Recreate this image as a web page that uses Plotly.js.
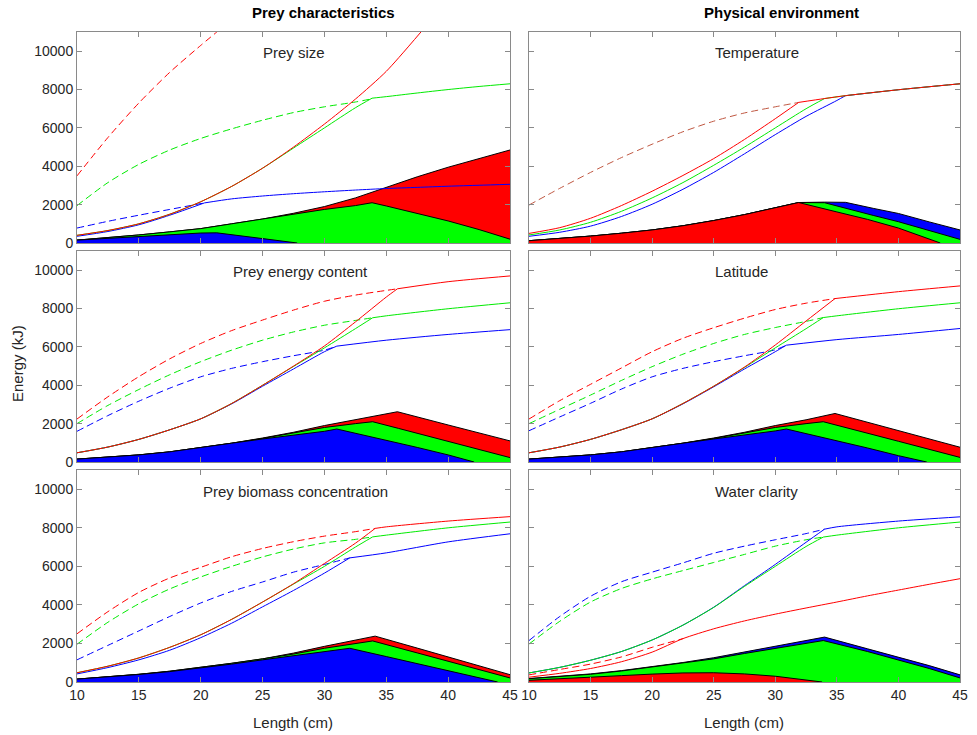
<!DOCTYPE html>
<html>
<head>
<meta charset="utf-8">
<script src="https://cdn.plot.ly/plotly-3.0.1.min.js"></script>
<style>html,body{margin:0;padding:0;background:#fff;}#chart{width:977px;height:735px;}</style>
</head>
<body>
<div id="chart"></div>
<script>
// ---------- axis ticks ----------
const xTicks = [10, 15, 20, 25, 30, 35, 40, 45];
const yTicks = [0, 2000, 4000, 6000, 8000, 10000];
const colTitles = ["Prey characteristics", "Physical environment"];
const panelTitles = ["Prey size", "Temperature", "Prey energy content", "Latitude", "Prey biomass concentration", "Water clarity"];

// ---------- Panel A: Prey size ----------
const sizeRedDashX = [10,12.5,15,17.5,20,21.3];
const sizeRedDashY = [3500,5500,7300,8900,10300,11000];
const sizeRedX = [10,12.5,15,17.5,20,22.5,25,27.5,30,32.5,35,37.8];
const sizeRedY = [400,650,1000,1500,2150,2950,3900,5000,6200,7500,8950,11000];
const sizeGreenDashX = [10,12.5,15,17.5,20,22.5,25,27.5,30,32.5,33.85];
const sizeGreenDashY = [1950,3150,4100,4850,5450,5950,6400,6800,7100,7350,7520];
const sizeGreenX = [10,12.5,15,17.5,20,22.5,25,27.5,30,32.5,33.85,35,37.5,40,42.5,45];
const sizeGreenY = [400,650,1000,1500,2150,2950,3900,4950,6000,7050,7550,7630,7820,8000,8160,8300];
const sizeBlueDashX = [10,12.5,15,17.5,20.3];
const sizeBlueDashY = [780,1130,1450,1750,2090];
const sizeBlueX = [10,12.5,15,17.5,20.3,22.5,25,27.5,30,32.5,35,37.5,40,42.5,45];
const sizeBlueY = [350,600,950,1450,2090,2300,2450,2570,2670,2760,2840,2900,2960,3010,3060];
const sizeRedFillX = [10,12.5,15,17.5,20,22.5,25,27.5,30,32.5,35,37.5,40,42.5,45];
const sizeRedFillY = [150,270,420,580,750,1000,1250,1550,1900,2350,2900,3450,3950,4400,4850];
const sizeGreenFillX = [10,12.5,15,17.5,20,22.5,25,27.5,30,32.5,33.85,35,37.5,40,42.5,45];
const sizeGreenFillY = [150,270,420,580,750,1000,1250,1500,1750,1950,2100,1930,1550,1150,700,200];
const sizeBlueFillX = [10,12.5,15,17.5,20,21.3,22.5,25,27.8];
const sizeBlueFillY = [150,250,350,450,520,530,440,230,0];

// ---------- Panel B: Temperature ----------
const tempDashX = [10,12.5,15,17.5,20,22.5,25,27.5,30,31.9];
const tempDashY = [1980,2850,3680,4450,5150,5800,6350,6780,7100,7330];
const tempRedX = [10,12.5,15,17.5,20,22.5,25,27.5,30,31.9,34,35.7,40,45];
const tempRedY = [500,800,1290,1950,2700,3520,4400,5400,6480,7330,7530,7680,7990,8300];
const tempGreenX = [10,12.5,15,17.5,20,22.5,25,27.5,30,32.5,34,35.7,40,45];
const tempGreenY = [420,680,1080,1650,2350,3150,4050,5000,6000,7000,7530,7680,7990,8300];
const tempBlueX = [10,12.5,15,17.5,20,22.5,25,27.5,30,32.5,35,35.7,40,45];
const tempBlueY = [350,560,880,1380,2020,2800,3680,4650,5650,6600,7430,7680,7990,8300];
const tempBlueFillX = [10,12.5,15,17.5,20,22.5,25,27.5,30,31.9,34,35.7,38,40,42.5,45];
const tempBlueFillY = [120,230,360,510,680,900,1170,1480,1830,2110,2130,2120,1800,1540,1100,680];
const tempGreenFillX = [10,12.5,15,17.5,20,22.5,25,27.5,30,31.9,34,36,38,40,42.5,45];
const tempGreenFillY = [120,230,360,510,680,900,1170,1480,1830,2110,2100,1750,1430,1110,650,190];
const tempRedFillX = [10,12.5,15,17.5,20,22.5,25,27.5,30,31.9,35,37.5,40,42.5,43.4];
const tempRedFillY = [120,230,360,510,680,900,1170,1480,1830,2110,1620,1230,780,230,0];

// ---------- Panel C: Prey energy content ----------
const energyRedDashX = [10,12.5,15,17.5,20,22.5,25,27.5,30,32.5,35.9];
const energyRedDashY = [2240,3400,4450,5380,6180,6850,7400,7920,8380,8700,9030];
const energyRedX = [10,12.5,15,17.5,20,22.5,25,27.5,30,32.5,35,35.9,40,45];
const energyRedY = [480,780,1180,1680,2250,3050,4000,5000,6050,7300,8600,9030,9400,9700];
const energyGreenDashX = [10,12.5,15,17.5,20,22.5,25,27.5,30,32.5,33.9];
const energyGreenDashY = [2000,2950,3780,4550,5230,5830,6350,6780,7130,7380,7520];
const energyGreenX = [10,12.5,15,17.5,20,22.5,25,27.5,30,32.5,33.9,35,40,45];
const energyGreenY = [480,780,1180,1680,2250,3050,4000,4980,5950,6950,7520,7620,7990,8300];
const energyBlueDashX = [10,12.5,15,17.5,20,22.5,25,27.5,30,31];
const energyBlueDashY = [1600,2420,3170,3850,4440,4880,5230,5540,5830,6040];
const energyBlueX = [10,12.5,15,17.5,20,22.5,25,27.5,30,31,35,40,45];
const energyBlueY = [480,780,1180,1680,2250,3030,3950,4850,5750,6040,6350,6650,6900];
const energyRedFillX = [10,12.5,15,17.5,20,22.5,25,27.5,30,32.5,35.9,40,45];
const energyRedFillY = [150,250,370,530,740,980,1250,1550,1900,2200,2620,1930,1100];
const energyGreenFillX = [10,12.5,15,17.5,20,22.5,25,27.5,30,32.5,33.9,36,40,45];
const energyGreenFillY = [150,250,370,530,740,980,1230,1500,1800,2000,2100,1750,1080,230];
const energyBlueFillX = [10,12.5,15,17.5,20,22.5,25,27.5,30,31,35,37.5,40,42.1];
const energyBlueFillY = [150,250,370,530,740,980,1200,1400,1600,1720,1140,760,370,0];

// ---------- Panel D: Latitude ----------
const latRedDashX = [10,12.5,15,17.5,20,22.5,25,27.5,30,32.5,34.85];
const latRedDashY = [2240,3200,4050,4900,5750,6450,7000,7500,7950,8280,8520];
const latRedX = [10,12.5,15,17.5,20,22.5,25,27.5,30,32.5,34.85,40,45];
const latRedY = [480,780,1180,1680,2250,3050,3950,4950,6100,7350,8520,8880,9180];
const latGreenDashX = [10,12.5,15,17.5,20,22.5,25,27.5,30,32.5,33.9];
const latGreenDashY = [2000,2750,3490,4250,4970,5620,6180,6650,7010,7330,7530];
const latGreenX = [10,12.5,15,17.5,20,22.5,25,27.5,30,32.5,33.9,35,40,45];
const latGreenY = [480,780,1180,1680,2250,3050,3950,4930,5950,6950,7530,7620,7990,8300];
const latBlueDashX = [10,12.5,15,17.5,20,22.5,25,27.5,30,30.9];
const latBlueDashY = [1630,2350,3060,3800,4440,4880,5230,5540,5850,6090];
const latBlueX = [10,12.5,15,17.5,20,22.5,25,27.5,30,30.9,35,40,45];
const latBlueY = [480,780,1180,1680,2250,3030,3920,4850,5750,6090,6380,6650,6960];
const latRedFillX = [10,12.5,15,17.5,20,22.5,25,27.5,30,32.5,34.85,40,45];
const latRedFillY = [150,250,370,530,740,980,1250,1550,1900,2200,2530,1640,770];
const latGreenFillX = [10,12.5,15,17.5,20,22.5,25,27.5,30,32.5,33.9,40,45];
const latGreenFillY = [150,250,370,530,740,980,1230,1500,1800,2000,2100,1080,240];
const latBlueFillX = [10,12.5,15,17.5,20,22.5,25,27.5,30,30.9,35,37.5,40,42.3];
const latBlueFillY = [150,250,370,530,740,980,1200,1400,1620,1720,1120,730,330,0];

// ---------- Panel E: Prey biomass concentration ----------
const bioRedDashX = [10,12.5,15,17.5,20,22.5,25,27.5,30,32.5,34.1];
const bioRedDashY = [2500,3650,4650,5400,5950,6500,6930,7280,7570,7800,7970];
const bioRedX = [10,12.5,15,17.5,20,22.5,25,27.5,30,32.5,34.1,35,40,45];
const bioRedY = [480,820,1250,1800,2450,3250,4150,5100,6150,7200,7970,8050,8350,8580];
const bioGreenDashX = [10,12.5,15,17.5,20,22.5,25,27.5,30,32.5,33.9];
const bioGreenDashY = [1960,3100,4060,4830,5450,6000,6490,6900,7220,7400,7530];
const bioGreenX = [10,12.5,15,17.5,20,22.5,25,27.5,30,32.5,33.9,35,40,45];
const bioGreenY = [480,820,1250,1800,2450,3250,4150,5080,6000,7000,7530,7620,8000,8300];
const bioBlueDashX = [10,12.5,15,17.5,20,22.5,25,27.5,30,32.05];
const bioBlueDashY = [1150,1900,2650,3400,4100,4700,5190,5700,6100,6440];
const bioBlueX = [10,12.5,15,17.5,20,22.5,25,27.5,30,32.05,35,40,45];
const bioBlueY = [420,750,1150,1650,2300,3050,3900,4750,5650,6440,6700,7270,7690];
const bioRedFillX = [10,12.5,15,17.5,20,22.5,25,27.5,30,32.5,34.1,37.5,40,42.5,45];
const bioRedFillY = [150,270,400,560,760,970,1200,1500,1850,2150,2380,1760,1300,840,380];
const bioGreenFillX = [10,12.5,15,17.5,20,22.5,25,27.5,30,32.5,33.9,37.5,40,42.5,45];
const bioGreenFillY = [150,270,400,560,760,970,1200,1450,1750,1980,2130,1510,1075,640,210];
const bioBlueFillX = [10,12.5,15,17.5,20,22.5,25,27.5,30,32.05,35,37.5,40,42.5,44];
const bioBlueFillY = [150,260,390,540,730,930,1150,1350,1580,1750,1320,950,590,220,0];

// ---------- Panel F: Water clarity ----------
const clarBlueDashX = [10,12.5,15,17.5,20,22.5,25,27.5,30,32.5,34];
const clarBlueDashY = [2150,3400,4450,5200,5700,6180,6680,7050,7380,7700,7930];
const clarBlueX = [10,12.5,15,17.5,20,22.5,25,27.5,30,32.5,34,35,40,45];
const clarBlueY = [470,760,1130,1580,2180,2950,3880,5000,6100,7250,7930,8050,8350,8570];
const clarGreenDashX = [10,12.5,15,17.5,20,22.5,25,27.5,30,32.5,33.9];
const clarGreenDashY = [1970,3150,4150,4850,5350,5780,6200,6620,7050,7380,7520];
const clarGreenX = [10,12.5,15,17.5,20,22.5,25,27.5,30,32.5,33.9,35,40,45];
const clarGreenY = [470,760,1130,1580,2180,2950,3870,4960,6000,7030,7520,7620,8000,8300];
const clarRedDashX = [10,12.5,15,17.5,20,22.5];
const clarRedDashY = [370,650,930,1300,1800,2250];
const clarRedX = [10,12.5,15,17.5,20,22.5,25,27.5,30,32.5,35,37.5,40,42.5,45];
const clarRedY = [250,450,700,1050,1550,2250,2760,3170,3520,3840,4150,4470,4770,5070,5360];
const clarBlueFillX = [10,12.5,15,17.5,20,22.5,25,27.5,30,32.5,34,37.5,40,42.5,45];
const clarBlueFillY = [180,290,420,590,800,1010,1260,1560,1860,2150,2330,1720,1300,850,370];
const clarGreenFillX = [10,12.5,15,17.5,20,22.5,25,27.5,30,32.5,33.9,37.5,40,42.5,45];
const clarGreenFillY = [170,280,400,570,780,980,1200,1480,1750,2000,2150,1580,1150,700,210];
const clarRedFillX = [10,12.5,15,17.5,20,22.5,25,27.5,30,32.5,33.8];
const clarRedFillY = [90,160,240,330,410,470,480,420,300,120,0];

// ---------- styling ----------
const RED = 'rgb(255,0,0)', GREEN = 'rgb(0,235,0)', BLUE = 'rgb(0,0,255)', BROWN = 'rgb(192,88,66)';
const FILL = {red: 'rgb(255,0,0)', green: 'rgb(0,255,0)', blue: 'rgb(0,0,255)'};
const FONT = 'Liberation Sans, Arial, Helvetica, sans-serif';
const DASH = '7px,4px';
const LW = 1;

function area(x, y, color, ax) {
  return {x, y, type: 'scatter', mode: 'lines', fill: 'tozeroy', fillcolor: color,
    line: {color: '#000', width: 1}, xaxis: 'x' + ax, yaxis: 'y' + ax, hoverinfo: 'skip', showlegend: false};
}
function dashed(x, y, color, ax) {
  return [{x, y, type: 'scatter', mode: 'lines',
    line: {color, width: LW, dash: DASH, shape: 'spline', smoothing: 0.7},
    xaxis: 'x' + ax, yaxis: 'y' + ax, hoverinfo: 'skip', showlegend: false}];
}
// solid curve: split at its kink (sharpest drop of slope) so each smooth part can be splined
function solid(x, y, color, ax) {
  let kink = -1, best = 2;
  for (let j = 1; j < x.length - 1; j++) {
    const s0 = (y[j] - y[j - 1]) / (x[j] - x[j - 1]);
    const s1 = (y[j + 1] - y[j]) / (x[j + 1] - x[j]);
    if (s1 > 0 && s0 / s1 > best) { best = s0 / s1; kink = j; }
  }
  const parts = kink < 0 ? [[0, x.length]] : [[0, kink + 1], [kink, x.length]];
  return parts.map(([a, b]) => ({x: x.slice(a, b), y: y.slice(a, b), type: 'scatter', mode: 'lines',
    line: {color, width: LW, shape: 'spline', smoothing: 0.7},
    xaxis: 'x' + ax, yaxis: 'y' + ax, hoverinfo: 'skip', showlegend: false}));
}

const traces = [
  // A
  area(sizeRedFillX, sizeRedFillY, FILL.red, ''), area(sizeGreenFillX, sizeGreenFillY, FILL.green, ''), area(sizeBlueFillX, sizeBlueFillY, FILL.blue, ''),
  ...dashed(sizeRedDashX, sizeRedDashY, RED, ''), ...dashed(sizeGreenDashX, sizeGreenDashY, GREEN, ''), ...dashed(sizeBlueDashX, sizeBlueDashY, BLUE, ''),
  ...solid(sizeBlueX, sizeBlueY, BLUE, ''), ...solid(sizeGreenX, sizeGreenY, GREEN, ''), ...solid(sizeRedX, sizeRedY, RED, ''),
  // B
  area(tempBlueFillX, tempBlueFillY, FILL.blue, '2'), area(tempGreenFillX, tempGreenFillY, FILL.green, '2'), area(tempRedFillX, tempRedFillY, FILL.red, '2'),
  ...dashed(tempDashX, tempDashY, BROWN, '2'),
  ...solid(tempBlueX, tempBlueY, BLUE, '2'), ...solid(tempGreenX, tempGreenY, GREEN, '2'), ...solid(tempRedX, tempRedY, RED, '2'),
  // C
  area(energyRedFillX, energyRedFillY, FILL.red, '3'), area(energyGreenFillX, energyGreenFillY, FILL.green, '3'), area(energyBlueFillX, energyBlueFillY, FILL.blue, '3'),
  ...dashed(energyRedDashX, energyRedDashY, RED, '3'), ...dashed(energyGreenDashX, energyGreenDashY, GREEN, '3'), ...dashed(energyBlueDashX, energyBlueDashY, BLUE, '3'),
  ...solid(energyBlueX, energyBlueY, BLUE, '3'), ...solid(energyGreenX, energyGreenY, GREEN, '3'), ...solid(energyRedX, energyRedY, RED, '3'),
  // D
  area(latRedFillX, latRedFillY, FILL.red, '4'), area(latGreenFillX, latGreenFillY, FILL.green, '4'), area(latBlueFillX, latBlueFillY, FILL.blue, '4'),
  ...dashed(latRedDashX, latRedDashY, RED, '4'), ...dashed(latGreenDashX, latGreenDashY, GREEN, '4'), ...dashed(latBlueDashX, latBlueDashY, BLUE, '4'),
  ...solid(latBlueX, latBlueY, BLUE, '4'), ...solid(latGreenX, latGreenY, GREEN, '4'), ...solid(latRedX, latRedY, RED, '4'),
  // E
  area(bioRedFillX, bioRedFillY, FILL.red, '5'), area(bioGreenFillX, bioGreenFillY, FILL.green, '5'), area(bioBlueFillX, bioBlueFillY, FILL.blue, '5'),
  ...dashed(bioRedDashX, bioRedDashY, RED, '5'), ...dashed(bioGreenDashX, bioGreenDashY, GREEN, '5'), ...dashed(bioBlueDashX, bioBlueDashY, BLUE, '5'),
  ...solid(bioBlueX, bioBlueY, BLUE, '5'), ...solid(bioGreenX, bioGreenY, GREEN, '5'), ...solid(bioRedX, bioRedY, RED, '5'),
  // F
  area(clarBlueFillX, clarBlueFillY, FILL.blue, '6'), area(clarGreenFillX, clarGreenFillY, FILL.green, '6'), area(clarRedFillX, clarRedFillY, FILL.red, '6'),
  ...dashed(clarBlueDashX, clarBlueDashY, BLUE, '6'), ...dashed(clarGreenDashX, clarGreenDashY, GREEN, '6'), ...dashed(clarRedDashX, clarRedDashY, RED, '6'),
  ...solid(clarRedX, clarRedY, RED, '6'), ...solid(clarBlueX, clarBlueY, BLUE, '6'), ...solid(clarGreenX, clarGreenY, GREEN, '6')
];

const W = 977, H = 735;
const colPx = [[77, 510], [529, 960]];
const rowPx = [[32, 243], [251, 462], [470, 682]];

const layout = {
  width: W, height: H, margin: {l: 0, r: 0, t: 0, b: 0},
  paper_bgcolor: '#fff', plot_bgcolor: '#fff',
  font: {family: FONT, color: '#262626', size: 14},
  showlegend: false, annotations: []
};

for (let i = 0; i < 6; i++) {
  const r = Math.floor(i / 2), c = i % 2;
  const s = i === 0 ? '' : String(i + 1);
  const base = {showline: true, linecolor: '#8a8a8a', linewidth: 1, mirror: 'ticks', ticks: 'inside', ticklen: 5,
    tickcolor: '#8a8a8a', tickwidth: 1, showgrid: false, zeroline: false,
    tickfont: {family: FONT, size: 14, color: '#262626'}, fixedrange: true};
  layout['xaxis' + s] = Object.assign({}, base, {
    domain: [colPx[c][0] / W, colPx[c][1] / W], range: [10, 45], tickvals: xTicks,
    ticktext: xTicks.map(String), showticklabels: r === 2, anchor: 'y' + s
  });
  layout['yaxis' + s] = Object.assign({}, base, {
    domain: [1 - rowPx[r][1] / H, 1 - rowPx[r][0] / H], range: [0, 11000], tickvals: yTicks,
    ticktext: yTicks.map(String), showticklabels: c === 0, anchor: 'x' + s
  });
}

function ann(text, px, py, opts) {
  return Object.assign({text, x: px / W, y: 1 - py / H, xref: 'paper', yref: 'paper',
    xanchor: 'center', yanchor: 'middle', showarrow: false,
    font: {family: FONT, size: 15, color: '#262626'}}, opts || {});
}
layout.annotations.push(ann(colTitles[0], 323, 13, {font: {family: FONT, size: 15, color: '#000'}, text: '<b>' + colTitles[0] + '</b>'}));
layout.annotations.push(ann(colTitles[1], 781, 13, {font: {family: FONT, size: 15, color: '#000'}, text: '<b>' + colTitles[1] + '</b>'}));
const titlePos = [[294, 52], [757, 52], [300, 272], [741, 272], [295, 491], [756, 491]];
panelTitles.forEach((t, i) => layout.annotations.push(ann(t, titlePos[i][0], titlePos[i][1])));
layout.annotations.push(ann('Energy (kJ)', 17, 364, {textangle: -90}));
layout.annotations.push(ann('Length (cm)', 293, 722));
layout.annotations.push(ann('Length (cm)', 744, 722));

Plotly.newPlot('chart', traces, layout, {displayModeBar: false, staticPlot: true});
</script>
</body>
</html>
